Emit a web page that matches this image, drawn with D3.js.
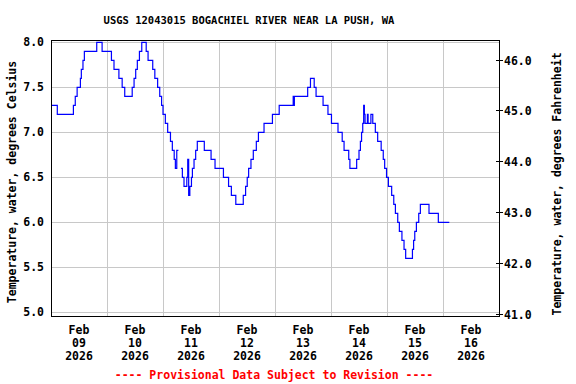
<!DOCTYPE html>
<html>
<head>
<meta charset="utf-8">
<script src="https://cdn.jsdelivr.net/npm/d3@7"></script>
<style>
  body { margin: 0; background: #fff; }
  text { font-family: "DejaVu Sans Mono", "Liberation Mono", monospace; font-weight: bold; }
</style>
</head>
<body>
<svg id="chart" width="576" height="384"></svg>
<script>
// series start; hours are counted from here
const startTime = new Date(2026, 1, 9, 0, 0);

// step points of the 15-minute record (hours since start, deg C); null = gap
const hours = [
  0, 2.7, 9.6, 10.4, 11.2, 12.6, 13.0, 13.7, 14.3, 19.6, 21.9, 25.9, 27.0, 29.1, 30.5, 31.6,
  34.8, 35.6, 36.3, 37.0, 37.9, 38.9, 40.8, 41.6, 43.6, 44.5, 45.7, 46.6, 47.4, 48.0, 49.0,
  50.0, 51.2, 52.0, 52.8, 53.3, 53.9, 54.6, 55.0,
  55.7, 56.3, 57.0, 58.2, 58.6, 59.0, 59.5, 60.2, 60.6, 61.3, 62.0, 62.7, 65.7, 68.6, 70.3,
  73.9, 76.1, 77.3, 79.2, 82.4, 83.4, 84.1, 84.7, 85.7, 86.7, 88.0, 88.9, 91.3, 94.9, 97.8,
  103.8, 104.0, 104.3, 110.0, 111.2, 112.8, 113.6, 116.6, 118.7, 120.2, 123.0, 124.8, 125.6,
  127.6, 128.1, 131.0, 132.0, 132.6, 133.1, 133.6, 134.0, 134.3, 134.6, 135.6, 135.9, 137.1,
  137.9, 139.0, 140.0, 141.5, 142.4, 143.0, 143.8, 144.6, 146.0, 146.9, 147.6, 148.6, 149.3,
  150.4, 151.3, 152.0, 154.9, 155.4, 155.9, 156.6, 157.6, 158.3, 162.0, 166.0, 170.7
];
const tempC = [
  7.3, 7.2, 7.3, 7.4, 7.5, 7.6, 7.7, 7.8, 7.9, 8.0, 7.9, 7.8, 7.7, 7.6, 7.5, 7.4,
  7.5, 7.6, 7.7, 7.8, 7.9, 8.0, 7.9, 7.8, 7.7, 7.6, 7.5, 7.4, 7.3, 7.2, 7.1,
  7.0, 6.9, 6.8, 6.7, 6.6, 6.8, 6.8, null,
  6.6, 6.5, 6.4, 6.5, 6.7, 6.3, 6.4, 6.5, 6.6, 6.7, 6.8, 6.9, 6.8, 6.7, 6.6,
  6.5, 6.4, 6.3, 6.2, 6.3, 6.4, 6.5, 6.6, 6.7, 6.8, 6.9, 7.0, 7.1, 7.2, 7.3,
  7.4, 7.3, 7.4, 7.5, 7.6, 7.5, 7.4, 7.3, 7.2, 7.1, 7.0, 6.9, 6.8,
  6.7, 6.6, 6.7, 6.8, 6.9, 7.0, 7.1, 7.3, 7.2, 7.1, 7.2, 7.1, 7.2,
  7.1, 7.0, 6.9, 6.8, 6.7, 6.6, 6.5, 6.4, 6.3, 6.2, 6.1, 6.0, 5.9,
  5.8, 5.7, 5.6, 5.7, 5.8, 5.9, 6.0, 6.1, 6.2, 6.1, 6.0, 6.0
];

const celsiusTicks = [5.0, 5.5, 6.0, 6.5, 7.0, 7.5, 8.0];
const fahrenheitTicks = [41, 42, 43, 44, 45, 46];
const dayLabels = [9, 10, 11, 12, 13, 14, 15, 16];

const titleText = "USGS 12043015 BOGACHIEL RIVER NEAR LA PUSH, WA";
const leftTitle = "Temperature, water, degrees Celsius";
const rightTitle = "Temperature, water, degrees Fahrenheit";
const footText = "---- Provisional Data Subject to Revision ----";

const plot = {left: 51, right: 499, top: 40, bottom: 316};
const svg = d3.select("#chart");

const data = hours.map((h, i) => ({
  t: d3.timeMinute.offset(startTime, Math.round(h * 60)),
  v: tempC[i]
}));

const x = d3.scaleTime()
  .domain([startTime, d3.timeDay.offset(startTime, 8)])
  .range([plot.left, plot.right]);

const y = d3.scaleLinear()
  .domain([5, 8])
  .range([312.3, 42.3]);

const yF = d3.scaleLinear()
  .domain([41, 46])
  .range([314, 59.5]);

// gridlines
const grid = svg.append("g").attr("stroke", "#c8c8c8").attr("stroke-width", 1);
grid.selectAll(".hgrid")
  .data(celsiusTicks)
  .enter().append("line")
    .attr("x1", plot.left).attr("x2", plot.right)
    .attr("y1", d => Math.round(y(d)) + 0.5)
    .attr("y2", d => Math.round(y(d)) + 0.5);
grid.selectAll(".vgrid")
  .data(dayLabels.slice(1))
  .enter().append("line")
    .attr("x1", d => Math.round(x(new Date(2026, 1, d))) + 0.5)
    .attr("x2", d => Math.round(x(new Date(2026, 1, d))) + 0.5)
    .attr("y1", plot.top).attr("y2", plot.bottom);

// data line
svg.append("clipPath").attr("id", "clip")
  .append("rect")
    .attr("x", plot.left).attr("y", plot.top)
    .attr("width", plot.right - plot.left).attr("height", plot.bottom - plot.top);

const line = d3.line()
  .defined(d => d.v !== null)
  .x(d => x(d.t))
  .y(d => y(d.v))
  .curve(d3.curveStepAfter);

svg.append("path")
  .datum(data)
  .attr("clip-path", "url(#clip)")
  .attr("fill", "none")
  .attr("stroke", "#0000ff")
  .attr("stroke-width", 1.2)
  .attr("d", line);

// frame
svg.append("rect")
  .attr("x", plot.left + 0.5).attr("y", plot.top + 0.5)
  .attr("width", plot.right - plot.left).attr("height", plot.bottom - plot.top)
  .attr("fill", "none").attr("stroke", "#000").attr("stroke-width", 1);

// left axis labels
svg.selectAll(".cLabel")
  .data(celsiusTicks)
  .enter().append("text")
    .attr("x", 44)
    .attr("y", d => y(d))
    .attr("dy", "0.35em")
    .attr("text-anchor", "end")
    .attr("font-size", "11.5px")
    .text(d => d.toFixed(1));

// right axis ticks and labels
svg.selectAll(".fTick")
  .data(fahrenheitTicks)
  .enter().append("line")
    .attr("x1", plot.right - 3).attr("x2", plot.right + 4)
    .attr("y1", d => Math.round(yF(d)) + 0.5)
    .attr("y2", d => Math.round(yF(d)) + 0.5)
    .attr("stroke", "#000");
svg.selectAll(".fLabel")
  .data(fahrenheitTicks)
  .enter().append("text")
    .attr("x", 504)
    .attr("y", d => yF(d) + 1)
    .attr("dy", "0.35em")
    .attr("font-size", "11.5px")
    .text(d => d.toFixed(1));

// x axis labels at noon of each day
const xl = svg.selectAll(".xLabel")
  .data(dayLabels)
  .enter().append("text")
    .attr("text-anchor", "middle")
    .attr("font-size", "11.5px")
    .attr("transform", d => "translate(" + x(new Date(2026, 1, d, 12)) + ",334)");
xl.append("tspan").attr("x", 0).attr("y", 0).text("Feb");
xl.append("tspan").attr("x", 0).attr("y", 13).text(d => d3.format("02d")(d));
xl.append("tspan").attr("x", 0).attr("y", 26).text("2026");

// titles
svg.append("text")
  .attr("x", 249).attr("y", 24)
  .attr("text-anchor", "middle")
  .attr("font-size", "10.5px")
  .text(titleText);

svg.append("text")
  .attr("transform", "translate(16,182) rotate(-90)")
  .attr("text-anchor", "middle")
  .attr("font-size", "11.5px")
  .text(leftTitle);

svg.append("text")
  .attr("transform", "translate(561,184) rotate(-90)")
  .attr("text-anchor", "middle")
  .attr("font-size", "11.5px")
  .text(rightTitle);

svg.append("text")
  .attr("x", 274).attr("y", 379)
  .attr("text-anchor", "middle")
  .attr("font-size", "11.5px")
  .attr("fill", "#ff0000")
  .text(footText);
</script>
</body>
</html>
